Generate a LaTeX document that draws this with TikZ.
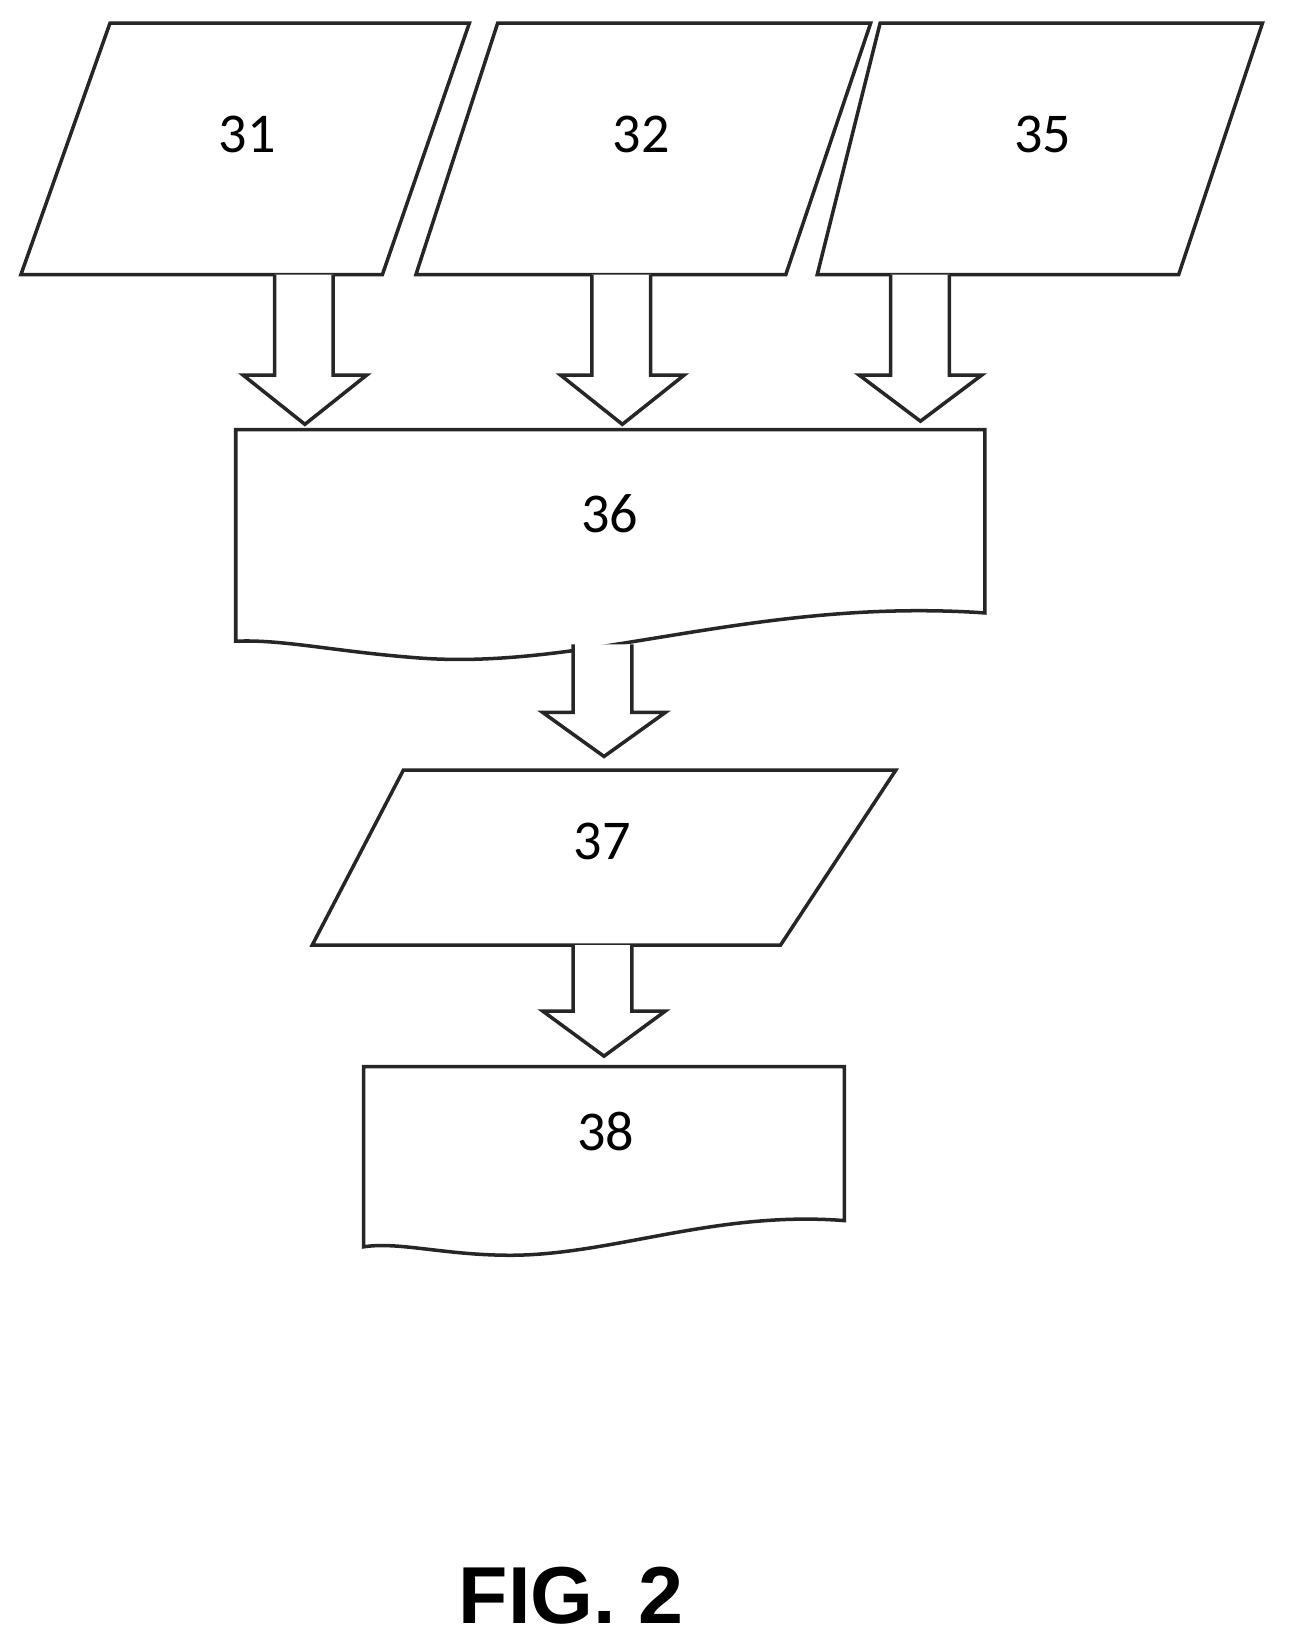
\documentclass[tikz,border=0pt]{standalone}
\usepackage{fontspec}
\setmainfont{Carlito}
\newfontfamily\figfont{Liberation Sans}
\tikzset{
	box/.style={draw=black!85,line width=1pt,line join=miter,fill=white},
	lbl/.style={font=\fontsize{16}{19}\selectfont},
	barrow/.style={draw=black!85,line width=1pt,fill=white},
}
% block arrow: \barr{shaft left}{shaft right}{head left}{head right}{top}{neck}{tip}
\newcommand{\barr}[7]{\draw[barrow] (#1,#5)--(#1,#6)--(#3,#6)--({(#3+#4)/2},#7)--(#4,#6)--(#2,#6)--(#2,#5);}
\begin{document}
\begin{tikzpicture}[x=0.01048cm,y=-0.01048cm]
	\useasboundingbox (0,0) rectangle (1234,1571);
	% inputs
	\draw[box] (105,22)--(448,22)--(365,262)--(20,262)--cycle;
	\node[lbl] (n31) at (236,128) {31};
	\draw[box] (475,22)--(831,22)--(750,262)--(397,262)--cycle;
	\node[lbl] (n32) at (612,128) {32};
	\draw[box] (840,22)--(1205,22)--(1125,262)--(780,262)--cycle;
	\node[lbl] (n35) at (995,128) {35};
	\barr{262}{318}{232}{350}{262}{358}{405}
	\barr{565}{621}{535}{653}{262}{358}{405}
	\barr{850}{906}{820}{937}{262}{358}{402}
	% document 36
	\draw[box] (225,612)--(225,410)--(940,410)--(940,585)
		.. controls (720,570) and (560,640) .. (400,628)
		.. controls (320,622) and (270,610) .. cycle;
	\node[lbl] (n36) at (582,490) {36};
	\barr{547}{603}{518}{635}{615}{680}{722}
	\draw[box] (385,735)--(855,735)--(745,902)--(298,902)--cycle;
	\node[lbl] (n37) at (575,803) {37};
	\barr{547}{603}{518}{635}{902}{965}{1008}
	% document 38
	\draw[box] (347,1190)--(347,1018)--(806,1018)--(806,1165)
		.. controls (680,1155) and (580,1200) .. (480,1198)
		.. controls (420,1197) and (380,1185) .. cycle;
	\node[lbl] (n38) at (578,1080) {38};
	\node[font=\figfont\bfseries\fontsize{23}{26}\selectfont] (fig) at (545,1523) {FIG. 2};
\end{tikzpicture}
\end{document}
